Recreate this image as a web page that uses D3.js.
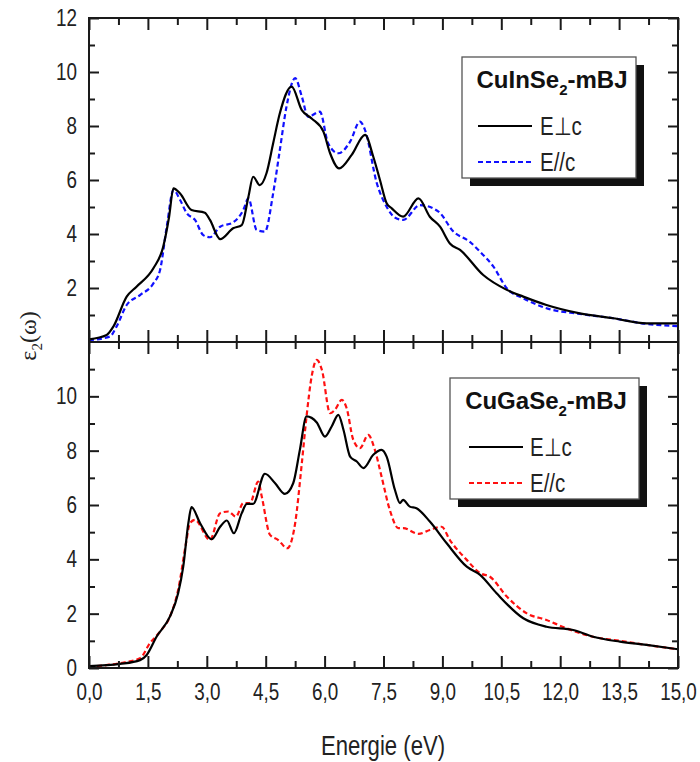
<!DOCTYPE html>
<html><head><meta charset="utf-8">
<script src="https://cdn.jsdelivr.net/npm/d3@7"></script>
<style>body{margin:0;background:#fff}svg{display:block}</style>
</head><body><div id="chart"></div>
<script>
// ---- data ----
const inSePerpE = [0.0,0.45,0.62,0.96,1.21,1.64,1.89,2.04,2.15,2.32,2.61,2.95,3.08,3.34,3.67,3.89,4.06,4.18,4.35,4.52,4.69,4.86,5.16,5.42,5.67,5.97,6.14,6.37,6.69,7.03,7.24,7.41,7.58,7.71,8.0,8.39,8.68,8.94,9.19,9.45,10.04,10.64,11.06,11.65,12.5,13.35,14.2,15.0];
const inSePerpV = [0.1,0.26,0.57,1.68,2.05,2.73,3.53,4.64,5.69,5.5,4.89,4.79,4.52,3.81,4.21,4.33,5.38,6.12,5.81,6.25,7.36,8.47,9.46,8.59,8.28,7.79,6.99,6.43,6.93,7.67,6.86,6.0,5.14,4.95,4.64,5.32,4.64,4.27,3.65,3.41,2.48,1.93,1.68,1.37,1.06,0.88,0.69,0.69];
const inSeParE = [0.0,0.53,0.7,0.96,1.3,1.64,1.81,1.98,2.15,2.32,2.49,2.7,2.91,3.08,3.34,3.67,3.93,4.06,4.27,4.48,4.69,4.86,5.03,5.25,5.42,5.58,5.88,6.09,6.35,6.65,6.9,7.03,7.33,7.58,7.8,8.0,8.43,8.9,9.28,9.7,9.96,10.3,10.64,11.06,11.65,12.5,13.35,14.2,15.0];
const inSeParV = [0.07,0.2,0.57,1.37,1.74,2.17,2.67,4.27,5.63,5.26,4.77,4.52,3.96,3.88,4.27,4.43,4.89,5.32,4.15,4.09,5.51,7.11,8.72,9.77,9.09,8.34,8.53,7.36,6.99,7.42,8.16,7.85,5.88,5.01,4.6,4.52,5.07,4.83,4.09,3.71,3.34,2.79,1.99,1.62,1.25,1.04,0.88,0.67,0.59];
const gaSePerpE = [0.0,0.79,1.3,1.47,1.72,2.06,2.27,2.4,2.53,2.61,2.83,3.12,3.34,3.51,3.69,3.89,4.02,4.18,4.48,4.74,4.99,5.2,5.37,5.54,5.8,6.01,6.18,6.35,6.48,6.65,6.82,6.99,7.24,7.45,7.58,7.79,7.92,8.0,8.17,8.34,8.68,9.11,9.62,9.96,10.38,11.06,11.65,12.33,12.84,13.52,14.2,15.0];
const gaSePerpV = [0.07,0.15,0.29,0.48,1.15,1.89,2.75,3.73,5.33,5.92,5.33,4.74,5.2,5.43,4.96,5.7,6.04,6.04,7.15,6.8,6.41,6.8,8.03,9.26,9.04,8.52,8.89,9.32,8.77,7.78,7.6,7.36,7.85,8.03,7.78,6.56,6.07,6.19,5.94,5.88,5.39,4.59,3.73,3.43,2.75,1.83,1.52,1.4,1.15,0.97,0.85,0.69];
const gaSeParE = [0.0,0.79,1.3,1.55,1.81,2.06,2.27,2.47,2.57,2.7,3.08,3.34,3.55,3.74,3.93,4.1,4.31,4.4,4.61,4.82,5.05,5.25,5.42,5.54,5.67,5.8,5.93,6.14,6.26,6.44,6.56,6.73,6.9,7.11,7.28,7.45,7.66,7.88,8.0,8.39,8.68,8.98,9.19,9.62,9.96,10.21,10.64,11.15,11.65,12.16,12.84,13.52,14.2,15.0];
const gaSeParV = [0.05,0.18,0.36,0.91,1.34,1.89,2.87,4.59,5.33,5.45,4.71,5.7,5.76,5.57,6.07,6.07,6.86,6.31,4.9,4.71,4.41,5.33,7.54,9.26,10.73,11.34,10.98,9.38,9.5,9.87,9.57,8.4,8.09,8.58,8.03,7.05,5.82,5.15,5.15,4.94,5.08,5.2,4.71,3.98,3.49,3.36,2.63,2.01,1.77,1.46,1.15,1.0,0.85,0.69];

const xMajorTicks = [0,1.5,3,4.5,6,7.5,9,10.5,12,13.5,15];
const xMinorTicks = [0.75,2.25,3.75,5.25,6.75,8.25,9.75,11.25,12.75,14.25];
const topYTicks = [2,4,6,8,10,12];
const botYTicks = [0,2,4,6,8,10];
const yMinorTicks = [1,3,5,7,9,11];
const legendTitles = [["CuInSe","2","-mBJ"],["CuGaSe","2","-mBJ"]];
const legendLabels = ["E\u22A5c","E//c"];
const xTitle = "Energie (eV)";

// ---- drawing ----
const W=700,H=762, L=89, R=678, SX=0.82;
const svg = d3.select("#chart").append("svg").attr("width",W).attr("height",H);
const x = d3.scaleLinear().domain([0,15]).range([L,R]);
const fmt = d=>d3.format(".1f")(d).replace(".",",");
const FONT = "'Liberation Sans', Arial, sans-serif";
const AXC = "#1a1a1a";

const panels = [
  {top:18, bot:342, yt:topYTicks, series:[
    {E:inSePerpE,V:inSePerpV,color:"#000",dash:null},
    {E:inSeParE,V:inSeParV,color:"#1010ff",dash:"5,3"}],
    legend:{x:462,y:57,w:174,h:121,title:legendTitles[0],tx:552,lx:478,lx2:532,tl:540}},
  {top:342, bot:668, yt:botYTicks, series:[
    {E:gaSePerpE,V:gaSePerpV,color:"#000",dash:null},
    {E:gaSeParE,V:gaSeParV,color:"#ff1010",dash:"5,3"}],
    legend:{x:450,y:378,w:189,h:121,title:legendTitles[1],tx:546,lx:469,lx2:523,tl:530}}
];

function narrow(sel, fs){
  sel.selectAll("text").attr("font-size",fs).attr("font-family",FONT).attr("fill","#222")
    .each(function(){const t=d3.select(this);const xx=+t.attr("x")||0;t.attr("x",xx/SX).attr("transform",`scale(${SX},1)`);});
}

panels.forEach((p,i)=>{
  const y = d3.scaleLinear().domain([0,12]).range([p.bot,p.top]);
  const g = svg.append("g");
  const cid = "clip"+i;
  g.append("clipPath").attr("id",cid).append("rect").attr("x",L).attr("y",p.top).attr("width",R-L).attr("height",p.bot-p.top);
  const line = d3.line().x(d=>x(d[0])).y(d=>y(d[1])).curve(d3.curveMonotoneX);
  [p.series[1],p.series[0]].forEach(s=>{
    g.append("path").attr("clip-path",`url(#${cid})`)
      .datum(s.E.map((e,k)=>[e,s.V[k]]))
      .attr("d",line).attr("fill","none").attr("stroke",s.color)
      .attr("stroke-width",2.2).attr("stroke-dasharray",s.dash).attr("stroke-linejoin","round");
  });
  const yl = g.append("g").attr("transform",`translate(${L},0)`)
    .call(d3.axisLeft(y).tickValues(p.yt).tickSizeInner(-10).tickSizeOuter(0).tickPadding(12).tickFormat(d3.format("d")));
  narrow(yl,23);
  g.append("g").attr("transform",`translate(${L},0)`)
    .call(d3.axisLeft(y).tickValues(yMinorTicks).tickSizeInner(-6).tickSizeOuter(0).tickFormat(""));
  g.append("g").attr("transform",`translate(${R},0)`)
    .call(d3.axisRight(y).tickValues(p.yt).tickSizeInner(-10).tickSizeOuter(0).tickFormat(""));
  g.append("g").attr("transform",`translate(${R},0)`)
    .call(d3.axisRight(y).tickValues(yMinorTicks).tickSizeInner(-6).tickSizeOuter(0).tickFormat(""));
  const xb = g.append("g").attr("transform",`translate(0,${p.bot})`)
    .call(d3.axisBottom(x).tickValues(xMajorTicks).tickSizeInner(-12).tickSizeOuter(0).tickPadding(16).tickFormat(i===1?fmt:""));
  if(i===1) narrow(xb,23);
  g.append("g").attr("transform",`translate(0,${p.bot})`)
    .call(d3.axisBottom(x).tickValues(xMinorTicks).tickSizeInner(-7).tickSizeOuter(0).tickFormat(""));
  g.append("g").attr("transform",`translate(0,${p.top})`)
    .call(d3.axisTop(x).tickValues(xMajorTicks).tickSizeInner(-12).tickSizeOuter(0).tickFormat(""));
  g.append("g").attr("transform",`translate(0,${p.top})`)
    .call(d3.axisTop(x).tickValues(xMinorTicks).tickSizeInner(-7).tickSizeOuter(0).tickFormat(""));
  g.selectAll(".domain").remove();
  g.selectAll(".tick line").attr("stroke",AXC).attr("stroke-width",2);
  g.append("rect").attr("x",L).attr("y",p.top).attr("width",R-L).attr("height",p.bot-p.top)
    .attr("fill","none").attr("stroke",AXC).attr("stroke-width",2);
  // legend
  const lg = p.legend;
  const leg = svg.append("g");
  leg.append("rect").attr("x",lg.x+8).attr("y",lg.y+8).attr("width",lg.w).attr("height",lg.h).attr("fill","#111");
  leg.append("rect").attr("x",lg.x).attr("y",lg.y).attr("width",lg.w).attr("height",lg.h).attr("fill","#fff").attr("stroke","#555").attr("stroke-width",1.3);
  const tt = leg.append("text").attr("x",lg.tx).attr("y",lg.y+31).attr("text-anchor","middle")
    .attr("font-family",FONT).attr("font-weight","bold").attr("font-size",24).attr("fill","#111");
  tt.append("tspan").text(lg.title[0]);
  tt.append("tspan").attr("dy",7).attr("font-size",15).text(lg.title[1]);
  tt.append("tspan").attr("dy",-7).text(lg.title[2]);
  p.series.forEach((s,k)=>{
    const yy = lg.y + 69 + k*36;
    leg.append("line").attr("x1",lg.lx).attr("x2",lg.lx2).attr("y1",yy).attr("y2",yy)
      .attr("stroke",s.color).attr("stroke-width",2).attr("stroke-dasharray",s.dash);
    leg.append("text").attr("x",lg.tl/SX).attr("y",yy+9).attr("transform",`scale(${SX},1)`)
      .attr("font-family",FONT).attr("font-size",25).attr("fill","#222").text(legendLabels[k]);
  });
});

svg.append("text").attr("x",383/SX).attr("y",755).attr("transform",`scale(${SX},1)`).attr("text-anchor","middle")
  .attr("font-family",FONT).attr("font-size",27).attr("fill","#222").text(xTitle);
const yt = svg.append("text").attr("transform","translate(36,336) rotate(-90)").attr("text-anchor","middle")
  .attr("font-family","'Liberation Serif', 'Times New Roman', serif").attr("font-size",24).attr("fill","#222");
yt.append("tspan").text("\u03B5");
yt.append("tspan").attr("dy",6).attr("font-size",15).text("2");
yt.append("tspan").attr("dy",-6).text("(\u03C9)");
</script></body></html>
